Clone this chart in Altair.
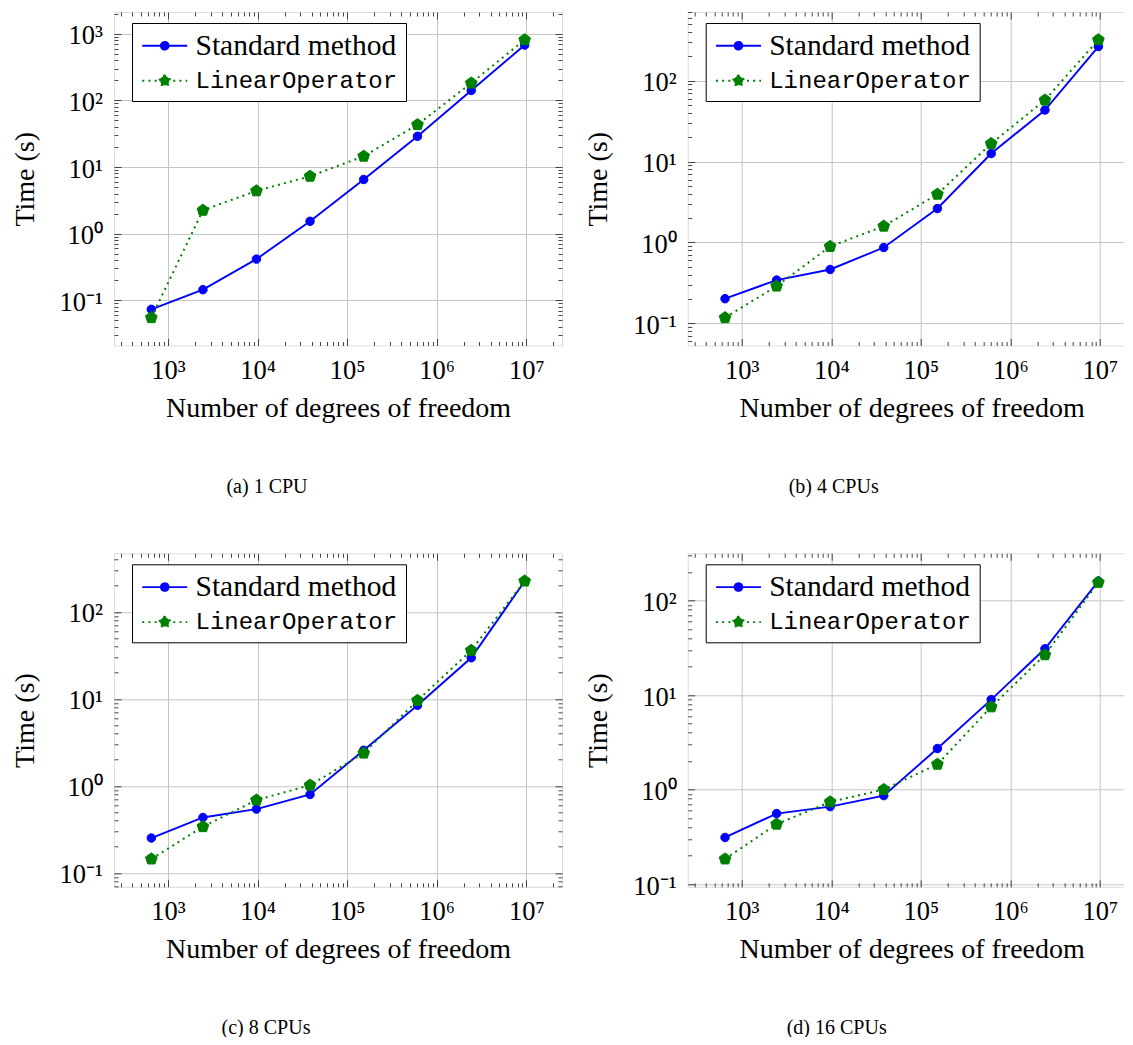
import math
import altair as alt
import pandas as pd

# ---------------- data ----------------
dofs = [650, 2450, 9700, 38500, 153000, 610000, 2430000, 9600000]
series_names = ["Standard method", "LinearOperator"]
captions = ["(a) 1 CPU", "(b) 4 CPUs", "(c) 8 CPUs", "(d) 16 CPUs"]
caption_dx = [-71, -78, -72, -75]

std_1cpu = [0.073, 0.144, 0.414, 1.53, 6.5, 28.9, 141, 677]
lin_1cpu = [0.0546, 2.24, 4.38, 7.26, 14.5, 43.2, 182, 813]
std_4cpu = [0.202, 0.343, 0.464, 0.867, 2.63, 12.6, 43.5, 265]
lin_4cpu = [0.1175, 0.289, 0.893, 1.59, 3.95, 16.7, 57.7, 321]
std_8cpu = [0.252, 0.434, 0.542, 0.797, 2.57, 8.45, 29.7, 225]
lin_8cpu = [0.1446, 0.34, 0.687, 1.02, 2.38, 9.6, 36.1, 226]
std_16cpu = [0.311, 0.557, 0.66, 0.863, 2.72, 8.96, 30.9, 161]
lin_16cpu = [0.184, 0.43, 0.74, 1.0, 1.85, 7.5, 26.7, 156]

# ---------------- styles ----------------
BLUE = "#0000ff"
GREEN = "#008000"
SERIF = "Liberation Serif"
MONO = "Liberation Mono"
PENT = "M0,-1L-0.951,-0.309L-0.588,0.809L0.588,0.809L0.951,-0.309Z"
LEG_STD = "M-1.73,0L1.73,0M-0.3,0A0.3,0.3 0 1,0 0.3,0A0.3,0.3 0 1,0 -0.3,0Z"
LEG_LIN = "M-1.73,0L1.73,0M0,-0.42L-0.4,-0.13L-0.247,0.34L0.247,0.34L0.4,-0.13Z"

PW, PH = 448, 333.5

LABEL = ("'10' + ['\u207b\u00b9','\u2070','\u00b9','\u00b2','\u00b3','\u2074','\u2075','\u2076','\u2077']"
         "[round(log(datum.value)/LN10)+1]")


def enlarge(vals):
    lo, hi = math.log10(min(vals)), math.log10(max(vals))
    pad = 0.1 * (hi - lo)
    return 10 ** (lo - pad), 10 ** (hi + pad)


def log_ticks(lo, hi, major):
    out = []
    for k in range(math.floor(math.log10(lo)), math.ceil(math.log10(hi)) + 1):
        for m in ([1] if major else range(2, 10)):
            v = m * 10.0 ** k
            if lo <= v <= hi:
                out.append(v)
    return out


def tick_axis(orient, values, size, **kw):
    return alt.Axis(orient=orient, values=values, tickSize={"expr": str(-size)}, tickColor="#333333",
                    tickWidth=0.9, domain=False, **kw)


def panel(std, lin, caption, dx):
    n = len(dofs)
    df = pd.DataFrame({"dof": dofs + dofs, "time": std + lin,
                       "series": [series_names[0]] * n + [series_names[1]] * n})
    xlo, xhi = enlarge(dofs)
    ylo, yhi = enlarge(std + lin)
    xsc = alt.Scale(type="log", domain=[xlo, xhi], nice=False)
    ysc = alt.Scale(type="log", domain=[ylo, yhi], nice=False)
    xmaj, xmin = log_ticks(xlo, xhi, True), log_ticks(xlo, xhi, False)
    ymaj, ymin = log_ticks(ylo, yhi, True), log_ticks(ylo, yhi, False)

    lab = dict(labelExpr=LABEL, labelFont=SERIF, labelFontSize=26.5, labelColor="black",
               labelOverlap=False, labelFlush=False, labelPadding=18.5,
               grid=True, gridColor="#c6c6c6", gridWidth=1,
               titleFont=SERIF, titleFontSize=28, titleFontWeight="normal", titleColor="black")
    nolab = dict(labels=False, grid=False, title=None)

    # layer 1: blue line -> bottom/left major axes with labels + grid
    x1 = alt.X("dof:Q", scale=xsc, axis=tick_axis(
        "bottom", xmaj, 7, title="Number of degrees of freedom", titlePadding=11, **lab))
    y1 = alt.Y("time:Q", scale=ysc, axis=tick_axis(
        "left", ymaj, 7, title="Time (s)", titlePadding=20, labelOffset=2, **lab))
    # layer 2: blue points -> bottom/left minor ticks
    x2 = alt.X("dof:Q", scale=xsc, axis=tick_axis("bottom", xmin, 4, **nolab))
    y2 = alt.Y("time:Q", scale=ysc, axis=tick_axis("left", ymin, 4, **nolab))
    # layer 3: green line -> top/right major ticks
    x3 = alt.X("dof:Q", scale=xsc, axis=tick_axis("top", xmaj, 7, **nolab))
    y3 = alt.Y("time:Q", scale=ysc, axis=tick_axis("right", ymaj, 7, **nolab))
    # layer 4: green points -> top/right minor ticks
    x4 = alt.X("dof:Q", scale=xsc, axis=tick_axis("top", xmin, 4, **nolab))
    y4 = alt.Y("time:Q", scale=ysc, axis=tick_axis("right", ymin, 4, **nolab))

    base = alt.Chart(df)
    f_std = alt.datum.series == series_names[0]
    f_lin = alt.datum.series == series_names[1]

    line_std = base.transform_filter(f_std).mark_line(color=BLUE, strokeWidth=1.9).encode(x=x1, y=y1)
    pts_std = base.transform_filter(f_std).mark_point(
        shape="circle", filled=True, fill=BLUE, stroke=BLUE, strokeWidth=1, size=72, opacity=1
    ).encode(x=x2, y=y2)
    line_lin = base.transform_filter(f_lin).mark_line(
        color=GREEN, strokeWidth=2, strokeDash=[2, 4.2]).encode(x=x3, y=y3)
    pts_lin = base.transform_filter(f_lin).mark_point(
        shape=PENT, filled=True, fill=GREEN, stroke=GREEN, strokeWidth=1, size=150, opacity=1
    ).encode(x=x4, y=y4)

    lab_is_mono = "datum.label == '" + series_names[1] + "'"
    leg = alt.Legend(
        title=None, orient="none", legendX=18, legendY=11,
        strokeColor="black", fillColor="white", padding=8, cornerRadius=0,
        symbolSize=676, symbolStrokeWidth=1.8, symbolOffset=10, labelOffset=16,
        symbolFillColor="white", symbolStrokeColor="white", symbolOpacity=1,
        labelFont={"expr": lab_is_mono + " ? '" + MONO + "' : '" + SERIF + "'"},
        labelFontSize={"expr": lab_is_mono + " ? 24 : 29.5"},
        labelColor="black", labelLimit=400, rowPadding=5,
    )
    leg_df = pd.DataFrame({"series": series_names})
    legend_layer = alt.Chart(leg_df).transform_filter("false").mark_point(filled=True, opacity=1).encode(
        fill=alt.Fill("series:N", scale=alt.Scale(domain=series_names, range=[BLUE, GREEN]), legend=leg),
        stroke=alt.Stroke("series:N", scale=alt.Scale(domain=series_names, range=[BLUE, GREEN]), legend=leg),
        shape=alt.Shape("series:N", scale=alt.Scale(domain=series_names, range=[LEG_STD, LEG_LIN]), legend=leg),
        strokeDash=alt.StrokeDash("series:N", scale=alt.Scale(domain=series_names, range=[[1, 0], [2, 4.2]]),
                                  legend=leg),
    )

    return alt.layer(line_std, pts_std, line_lin, pts_lin, legend_layer).resolve_axis(
        x="independent", y="independent"
    ).properties(
        width=PW, height=PH,
        title=alt.TitleParams(caption, orient="bottom", anchor="middle", frame="group", offset=54.5, dx=dx,
                              font=SERIF, fontSize=20, fontWeight="normal", color="black"),
    )


panels = [
    panel(std_1cpu, lin_1cpu, captions[0], caption_dx[0]),
    panel(std_4cpu, lin_4cpu, captions[1], caption_dx[1]),
    panel(std_8cpu, lin_8cpu, captions[2], caption_dx[2]),
    panel(std_16cpu, lin_16cpu, captions[3], caption_dx[3]),
]

chart = alt.concat(
    *panels, columns=2, spacing={"row": 207.3, "column": 125.7}, bounds="flush"
).resolve_scale(
    fill="independent", stroke="independent", shape="independent", strokeDash="independent"
).resolve_legend(
    fill="independent", stroke="independent", shape="independent", strokeDash="independent"
).properties(
    padding={"left": 2, "top": 3, "right": -13, "bottom": -2}
).configure_view(
    stroke="black", strokeWidth=1.1
).configure(background="white")

chart.save("out.html", embed_options={"renderer": "svg", "actions": False})
